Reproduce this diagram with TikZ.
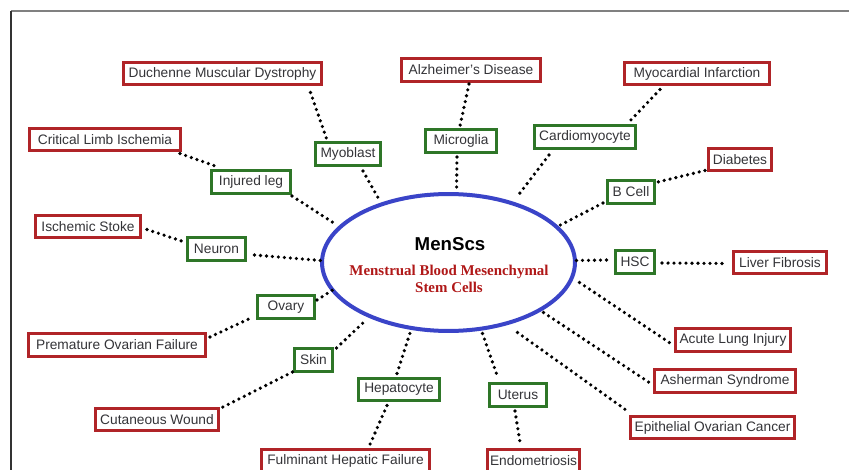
\documentclass[tikz,border=0pt]{standalone}
\usepackage{fontspec}
\setmainfont{Liberation Sans}
\newfontfamily\serifb{Liberation Serif}
\usetikzlibrary{shapes.geometric,calc}
\definecolor{boxred}{RGB}{176,36,40}
\definecolor{boxgreen}{RGB}{46,118,40}
\definecolor{ellblue}{RGB}{58,68,200}
\definecolor{txtgray}{RGB}{52,52,56}
\definecolor{subred}{RGB}{176,24,24}
\begin{document}
\begin{tikzpicture}[x=0.75pt,y=-0.75pt,
  box/.style={draw, fill=white, line width=2pt, minimum height=16.9pt, inner sep=1.5pt, text=txtgray, font=\fontsize{10.3}{12}\selectfont},
  rbox/.style={box, draw=boxred},
  gbox/.style={box, draw=boxgreen},
  dotline/.style={line width=2.7pt, line cap=round, dash pattern=on 0pt off 4.5pt, black}]
\useasboundingbox (0,0) rectangle (849,470);
\clip (0,0) rectangle (849,470);
\fill[white] (0,0) rectangle (849,470);
% frame
\draw[black!50, line width=1.3pt] (11,11) -- (849,11);
\draw[black!80, line width=0.8pt] (11,11) -- (11,470);

% centre ellipse
\node[ellipse, draw=ellblue, line width=3pt, minimum width=189.7pt, minimum height=102.7pt, inner sep=0pt] (E) at (448.5,262.5) {};
\node[font=\bfseries\fontsize{14}{16}\selectfont, text=black] (men) at (450,244) {MenScs};
\node[font=\serifb\bfseries\fontsize{11.2}{12.8}\selectfont, text=subred, align=center] (sub) at (449,279) {Menstrual Blood Mesenchymal\\Stem Cells};

% red boxes (diseases)
\node[rbox, minimum width=148.9pt] (dmd) at (222.5,73.5) {Duchenne Muscular Dystrophy};
\node[rbox, minimum width=104.6pt] (alz) at (471,70) {Alzheimer's Disease};
\node[rbox, minimum width=109.1pt] (myi) at (697,73.5) {Myocardial Infarction};
\node[rbox, minimum width=112.9pt] (cli) at (105,139.5) {Critical Limb Ischemia};
\node[rbox, minimum width=46.9pt] (dia) at (740,159.5) {Diabetes};
\node[rbox, minimum width=79.1pt] (isc) at (88,226.5) {Ischemic Stoke};
\node[rbox, minimum width=70.1pt] (lf) at (780,262.5) {Liver Fibrosis};
\node[rbox, minimum width=86.6pt] (ali) at (733,340) {Acute Lung Injury};
\node[rbox, minimum width=133.1pt] (pof) at (117,345) {Premature Ovarian Failure};
\node[rbox, minimum width=106.1pt] (ash) at (725,381) {Asherman Syndrome};
\node[rbox, minimum width=92.6pt] (cw) at (157,419.5) {Cutaneous Wound};
\node[rbox, minimum width=123.4pt] (eoc) at (712.5,427.5) {Epithelial Ovarian Cancer};
\node[rbox, minimum width=126.4pt] (fhf) at (345.5,460.5) {Fulminant Hepatic Failure};
\node[rbox, minimum width=69.4pt] (endo) at (533.5,460.5) {Endometriosis};

% green boxes (cells / organs)
\node[gbox, minimum width=48.4pt] (myo) at (348,154) {Myoblast};
\node[gbox, minimum width=58.9pt] (leg) at (251,182) {Injured leg};
\node[gbox, minimum width=52.9pt] (mic) at (461,141) {Microglia};
\node[gbox, minimum width=76.1pt] (car) at (585,137) {Cardiomyocyte};
\node[gbox, minimum width=34.9pt] (bc) at (631,192) {B Cell};
\node[gbox, minimum width=43.9pt] (neu) at (216.5,249) {Neuron};
\node[gbox, minimum width=29.6pt] (hsc) at (635,262) {HSC};
\node[gbox, minimum width=43.1pt] (ova) at (286,307) {Ovary};
\node[gbox, minimum width=28.9pt] (skin) at (313.5,360) {Skin};
\node[gbox, minimum width=60.4pt] (hep) at (399,389.5) {Hepatocyte};
\node[gbox, minimum width=43.1pt] (ut) at (518,395) {Uterus};

% dotted connectors
\draw[dotline] ($(dmd)+(88,19)$) -- ($(myo)+(-21,-14)$);
\draw[dotline] ($(myo)+(15,17)$) -- ($(E)+(-70,-64)$);
\draw[dotline] ($(cli)+(75,14)$) -- ($(leg)+(-33,-15)$);
\draw[dotline] ($(leg)+(41,14)$) -- ($(E)+(-114,-39)$);
\draw[dotline] ($(alz)+(-2,14)$) -- ($(mic)+(-1,-15)$);
\draw[dotline] ($(mic)+(-4,16)$) -- ($(E)+(8,-72)$);
\draw[dotline] ($(myi)+(-37,16)$) -- ($(car)+(44,-15)$);
\draw[dotline] ($(car)+(-36,18)$) -- ($(E)+(68,-65)$);
\draw[dotline] ($(dia)+(-35,11)$) -- ($(bc)+(27,-10)$);
\draw[dotline] ($(bc)+(-28,11)$) -- ($(E)+(111,-37)$);
\draw[dotline] ($(isc)+(59,3)$) -- ($(neu)+(-32,-7)$);
\draw[dotline] ($(neu)+(38,6)$) -- ($(E)+(-128,-2)$);
\draw[dotline] ($(E)+(128,-2)$) -- ($(hsc)+(-27,-2)$);
\draw[dotline] ($(hsc)+(27,1)$) -- ($(lf)+(-53,1)$);
\draw[dotline] ($(E)+(131,20)$) -- ($(ali)+(-60,5)$);
\draw[dotline] ($(ova)+(31,-7)$) -- ($(E)+(-115,27)$);
\draw[dotline] ($(pof)+(93,-8)$) -- ($(ova)+(-33,10)$);
\draw[dotline] ($(skin)+(23,-12)$) -- ($(E)+(-83,58)$);
\draw[dotline] ($(skin)+(-21,12)$) -- ($(cw)+(63,-11)$);
\draw[dotline] ($(hep)+(-2,-16)$) -- ($(E)+(-38,69)$);
\draw[dotline] ($(hep)+(-12,16)$) -- ($(fhf)+(24,-15)$);
\draw[dotline] ($(E)+(34,71)$) -- ($(ut)+(-20,-17)$);
\draw[dotline] ($(ut)+(-3,16)$) -- ($(endo)+(-13,-15)$);
\draw[dotline] ($(E)+(95,50)$) -- ($(ash)+(-75,2)$);
\draw[dotline] ($(E)+(69,70)$) -- ($(eoc)+(-83,-15)$);
\end{tikzpicture}
\end{document}
